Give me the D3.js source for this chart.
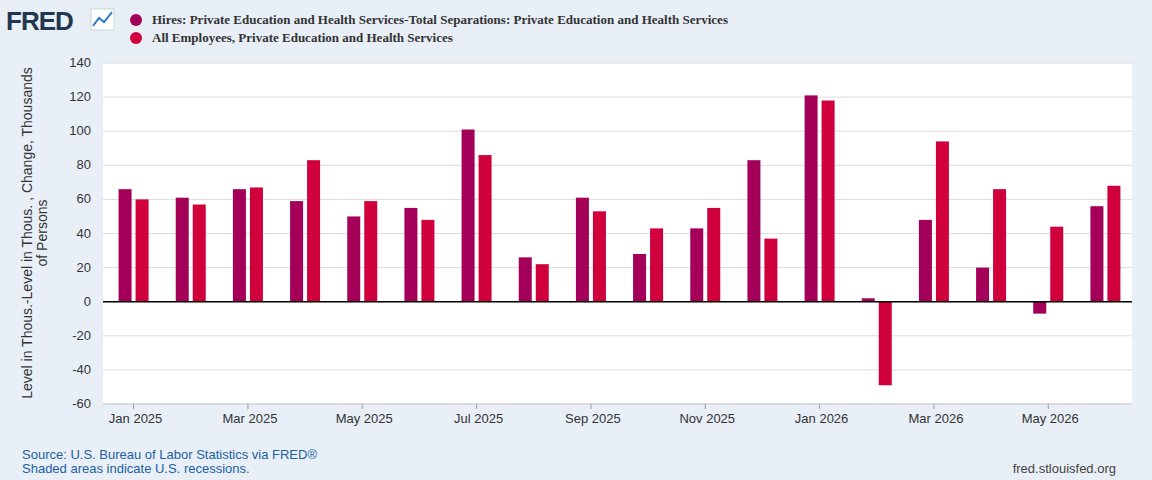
<!DOCTYPE html>
<html><head><meta charset="utf-8">
<script src="https://cdn.jsdelivr.net/npm/d3@7"></script>
<style>body{margin:0;background:#e8eff7;font-family:Arial,"Liberation Sans",sans-serif}</style>
</head><body><div id="chart"></div>
<script>
// Monthly values, Jan 2025 - Jun 2026
const months = ["2025-01","2025-02","2025-03","2025-04","2025-05","2025-06","2025-07","2025-08","2025-09","2025-10","2025-11","2025-12","2026-01","2026-02","2026-03","2026-04","2026-05","2026-06"];
const hires = [66,61,66,59,50,55,101,26,61,28,43,83,121,2,48,20,-7,56];
const emp   = [60,57,67,83,59,48,86,22,53,43,55,37,118,-49,94,66,44,68];
const data = months.map((m,i)=>({m, a:hires[i], b:emp[i]}));

const width = 1152, height = 480;
const m = {l:103, r:1132, t:63, b:404};
const c1 = "#a4005a", c2 = "#d0003c";

const svg = d3.select("#chart").append("svg").attr("width",width).attr("height",height);
svg.append("rect").attr("width",width).attr("height",height).attr("fill","#e8eff7");

const x = d3.scaleBand().domain(months).range([m.l+2,m.r+2]);
const y = d3.scaleLinear().domain([-60,140]).range([m.b,m.t]);

svg.append("rect").attr("x",m.l).attr("y",m.t).attr("width",m.r-m.l).attr("height",m.b-m.t).attr("fill","#fff");

// gridlines + y labels
const ticks = d3.range(-60,141,20);
svg.selectAll(".grid").data(ticks).enter().append("line")
  .attr("x1",m.l).attr("x2",m.r).attr("y1",d=>y(d)).attr("y2",d=>y(d))
  .attr("stroke","#dcdcdc").attr("stroke-width",1);
svg.selectAll(".yl").data(ticks).enter().append("text")
  .attr("x",91).attr("y",d=>y(d)+4).attr("text-anchor","end")
  .attr("font-size",13).attr("fill","#333").text(d=>d);

// bars
const bw = 13;
const g = svg.append("g");
g.selectAll(".a").data(data).enter().append("rect")
  .attr("x",d=>x(d.m)+x.bandwidth()/2-bw-2).attr("width",bw)
  .attr("y",d=>y(Math.max(0,d.a))).attr("height",d=>Math.abs(y(d.a)-y(0)))
  .attr("fill",c1);
g.selectAll(".b").data(data).enter().append("rect")
  .attr("x",d=>x(d.m)+x.bandwidth()/2+2).attr("width",bw)
  .attr("y",d=>y(Math.max(0,d.b))).attr("height",d=>Math.abs(y(d.b)-y(0)))
  .attr("fill",c2);

// zero line
svg.append("line").attr("x1",m.l).attr("x2",m.r).attr("y1",y(0)).attr("y2",y(0))
  .attr("stroke","#000").attr("stroke-width",1.5);
svg.append("line").attr("x1",m.l).attr("x2",m.r).attr("y1",m.b).attr("y2",m.b)
  .attr("stroke","#ccc");

// x labels every other month
const fmt = d3.timeFormat("%b %Y"), parse = d3.timeParse("%Y-%m");
const xl = months.filter((d,i)=>i%2===0);
svg.selectAll(".xt").data(xl).enter().append("line")
  .attr("x1",d=>x(d)+x.bandwidth()/2).attr("x2",d=>x(d)+x.bandwidth()/2)
  .attr("y1",m.b).attr("y2",m.b+5).attr("stroke","#999");
svg.selectAll(".xl").data(xl).enter().append("text")
  .attr("x",d=>x(d)+x.bandwidth()/2+2).attr("y",m.b+19).attr("text-anchor","middle")
  .attr("font-size",13).attr("fill","#333").text(d=>fmt(parse(d)));

// y title
const yt = svg.append("text").attr("transform","translate(32,233) rotate(-90)")
  .attr("text-anchor","middle").attr("font-size",14).attr("fill","#333");
yt.append("tspan").attr("x",0).attr("dy",0).text("Level in Thous.-Level in Thous. , Change, Thousands");
yt.append("tspan").attr("x",0).attr("dy",15).text("of Persons");

// legend
const leg = [["Hires: Private Education and Health Services-Total Separations: Private Education and Health Services",c1],
             ["All Employees, Private Education and Health Services",c2]];
leg.forEach((d,i)=>{
  svg.append("circle").attr("cx",136).attr("cy",20+i*18).attr("r",6).attr("fill",d[1]);
  svg.append("text").attr("x",152).attr("y",24+i*18).attr("font-family","'Liberation Serif',serif")
    .attr("font-weight","bold").attr("font-size",13).attr("fill","#333").text(d[0]);
});

// FRED logo
svg.append("text").attr("x",6).attr("y",30).attr("font-size",26).attr("font-weight","bold")
  .attr("fill","#22364f").attr("letter-spacing",-1).text("FRED");
svg.append("rect").attr("x",91).attr("y",9).attr("width",23).attr("height",21).attr("fill","#fff").attr("stroke","#9bb").attr("stroke-width",0.5);
svg.append("polyline").attr("points","93,26 99,18 104,22 112,12").attr("fill","none").attr("stroke","#2a78c8").attr("stroke-width",2);

// footer
svg.append("text").attr("x",22).attr("y",459).attr("font-size",13).attr("fill","#1d5fa0").text("Source: U.S. Bureau of Labor Statistics via FRED®");
svg.append("text").attr("x",22).attr("y",473).attr("font-size",13).attr("fill","#1d5fa0").text("Shaded areas indicate U.S. recessions.");
svg.append("text").attr("x",1116).attr("y",473).attr("text-anchor","end").attr("font-size",13).attr("fill","#444").text("fred.stlouisfed.org");
</script></body></html>
